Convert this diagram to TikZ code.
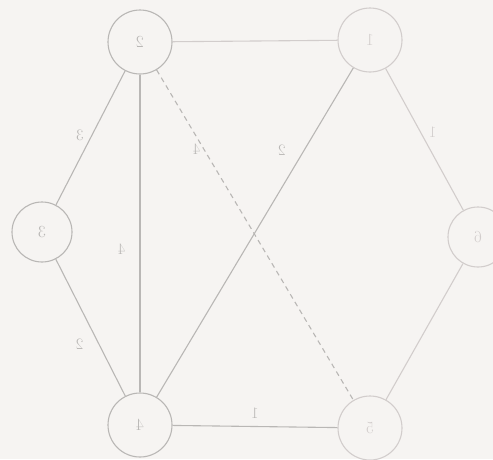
\documentclass[tikz,border=0pt]{standalone}
\usepackage{graphicx}
\definecolor{paper}{HTML}{F6F4F2}
\definecolor{ink}{HTML}{B9B7B5}
\definecolor{faint}{HTML}{D2CDCC}
\begin{document}
\begin{tikzpicture}[x=1pt,y=-1pt,
  vtx/.style={circle,draw=ink,line width=1.1pt,minimum size=64pt,inner sep=0pt,text=ink,font=\fontsize{17}{17}\selectfont},
  fvtx/.style={vtx,draw=faint,text=faint},
  edge/.style={draw=ink,line width=1.1pt},
  fedge/.style={draw=faint,line width=1.1pt},
  lbl/.style={text=ink,font=\fontsize{16}{16}\selectfont,inner sep=0pt},
  flbl/.style={lbl,text=faint}]
\fill[paper] (0,0) rectangle (493,459);
\useasboundingbox (0,0) rectangle (493,459);
\clip (0,0) rectangle (493,459);
\node[vtx] (n2) at (140,42) {\reflectbox{2}};
\node[fvtx] (n1) at (370,40) {\reflectbox{1}};
\node[vtx,minimum size=60pt] (n3) at (42,232) {\reflectbox{3}};
\node[fvtx,minimum size=60pt] (n6) at (478,237) {\reflectbox{6}};
\node[vtx] (n4) at (140,425) {\reflectbox{4}};
\node[fvtx] (n5) at (370,428) {\reflectbox{5}};
\draw[fedge] (n2) -- (n1);
\draw[edge] (n2) -- (n3) node[lbl,pos=0.55,above left=3pt] {\reflectbox{3}};
\draw[edge] (n2) -- (n4) node[lbl,pos=0.55,left=14pt] {\reflectbox{4}};
\draw[edge,dashed,dash pattern=on 5pt off 4pt] (n2) -- (n5) node[lbl,pos=0.24,left=3pt] {\reflectbox{4}};
\draw[edge] (n1) -- (n4) node[lbl,pos=0.25,left=18pt] {\reflectbox{2}};
\draw[fedge] (n1) -- (n6) node[flbl,pos=0.45,right=8pt] {\reflectbox{1}};
\draw[edge] (n3) -- (n4) node[lbl,pos=0.62,left=15pt] {\reflectbox{2}};
\draw[edge] (n4) -- (n5) node[lbl,pos=0.5,above=7pt] {\reflectbox{1}};
\draw[fedge] (n6) -- (n5);
\end{tikzpicture}
\end{document}
